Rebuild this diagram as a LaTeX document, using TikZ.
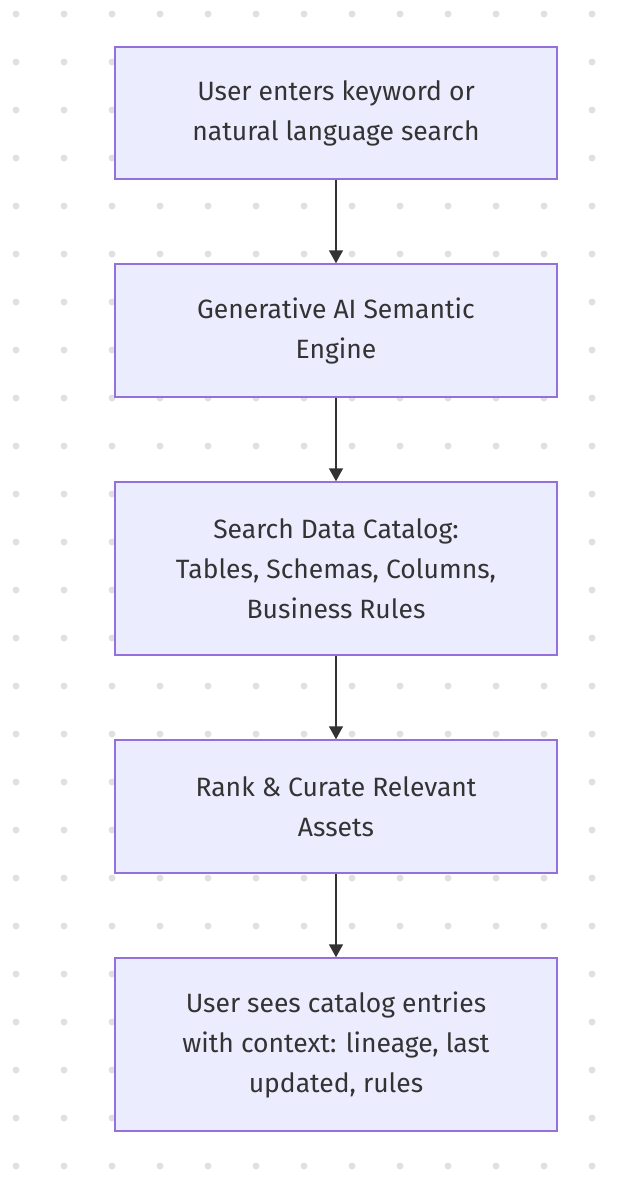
\documentclass[tikz,border=0pt]{standalone}
\usepackage{fontspec}
\setmainfont{Fira Sans}
\usetikzlibrary{arrows.meta}
\definecolor{boxfill}{HTML}{ECECFF}
\definecolor{boxline}{HTML}{9370DB}
\definecolor{txt}{HTML}{333333}
\definecolor{edge}{HTML}{333333}
\definecolor{dotc}{HTML}{E0E0E0}
\tikzset{
  stepbox/.style={draw=boxline, fill=boxfill, line width=1.5pt, minimum width=442pt, inner sep=0pt,
    text=txt, align=center, font=\fontsize{26.5pt}{40pt}\selectfont},
  flow/.style={draw=edge, line width=1.5pt, -{Triangle[width=14pt,length=13pt]}}
}
\begin{document}
\begin{tikzpicture}[x=1pt,y=-1pt]
\useasboundingbox (0,0) rectangle (634,1186);
\foreach \i in {0,...,12}{
  \foreach \j in {0,...,24}{
    \fill[dotc] (16+48*\i,14+48*\j) circle (3.5pt);
  }
}
\node[stepbox, minimum height=132pt] (a) at (336,113) {\raisebox{-2pt}{}User enters keyword or\\natural language search};
\node[stepbox, minimum height=133pt] (b) at (336,330.5) {Generative AI Semantic\\Engine};
\node[stepbox, minimum height=173pt] (c) at (336,568.5) {Search Data Catalog:\\Tables, Schemas, Columns,\\Business Rules};
\node[stepbox, minimum height=133pt] (d) at (336,806.5) {Rank \& Curate Relevant\\Assets};
\node[stepbox, minimum height=173pt] (e) at (336,1044.5) {User sees catalog entries\\with context: lineage, last\\updated, rules};
\draw[flow] (a) -- (b);
\draw[flow] (b) -- (c);
\draw[flow] (c) -- (d);
\draw[flow] (d) -- (e);
\end{tikzpicture}
\end{document}
